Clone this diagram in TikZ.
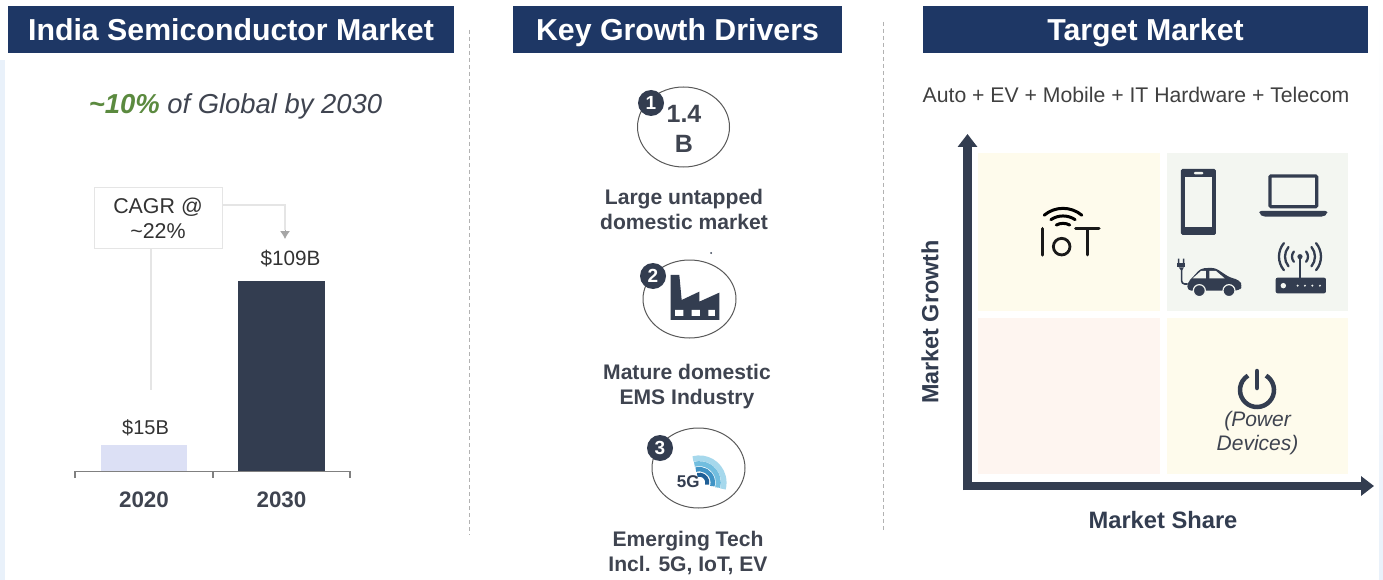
\documentclass[tikz,border=0pt]{standalone}
\usepackage{fontspec}
\setmainfont{Liberation Sans}
\usetikzlibrary{arrows.meta,calc}
\definecolor{hdr}{HTML}{1E3765}
\definecolor{ink}{HTML}{333D50}
\definecolor{txt}{HTML}{3F4450}
\definecolor{grn}{HTML}{5B8A3F}
\definecolor{qy}{HTML}{FEFBEC}
\definecolor{qg}{HTML}{F3F6F1}
\definecolor{qr}{HTML}{FEF5F0}
\definecolor{edge}{HTML}{E9F1FA}
\definecolor{bar1}{HTML}{DCE0F5}
\definecolor{gA}{HTML}{A6D8EC}
\definecolor{gB}{HTML}{72BEDF}
\definecolor{gC}{HTML}{3F93C5}
\definecolor{gD}{HTML}{1F5F96}
\newcommand{\tld}{\symbol{126}}
\tikzset{
  header/.style={fill=hdr,text=white,minimum height=47pt,inner sep=0pt,text height=21.5pt,text depth=0pt,font=\fontsize{30.3}{32}\selectfont\bfseries},
  divider/.style={draw=black!30,dashed,line width=0.7pt,dash pattern=on 4pt off 3pt},
  plain/.style={inner sep=0pt,text=txt,align=center},
  drv/.style={plain,font=\fontsize{21.1}{25}\selectfont\bfseries},
  badge/.style={circle,fill=ink,text=white,minimum size=26pt,inner sep=0pt,font=\fontsize{19}{20}\selectfont\bfseries},
  conn/.style={draw=black!10,line width=1.3pt},
}
\begin{document}
\begin{tikzpicture}[x=1pt,y=-1pt]
\useasboundingbox (0,0) rectangle (1383,580);
\fill[white] (0,0) rectangle (1383,580);
\fill[edge] (0,60) rectangle (5,580);
\shade[top color=white,bottom color=edge] (1379,0) rectangle (1383,580);
% headers
\node[header,minimum width=446pt] (h1) at (231,29.5) {India Semiconductor Market};
\node[header,minimum width=329pt] (h2) at (677.5,29.5) {Key Growth Drivers};
\node[header,minimum width=445pt] (h3) at (1145.5,29.5) {Target Market};
% dividers
\draw[divider] (469,30) -- (469,535);
\draw[divider] (883,22) -- (883,530);
% left panel
\node[plain,font=\fontsize{27.4}{30}\selectfont\itshape] (share) at (235.5,106) {\textcolor{grn}{\bfseries \tld 10\%} of Global by 2030};
\fill[bar1] (101,445) rectangle (187,471);
\fill[ink] (238,281) rectangle (325,471);
\draw[black!50,line width=1.2pt] (75,478) -- (75,471.5) -- (350,471.5) -- (350,478) (213,471.5) -- (213,478);
\node[draw=black!10,line width=1pt,minimum width=128pt,minimum height=60pt,inner sep=0pt,text=black!80,align=center,font=\fontsize{21.4}{25}\selectfont] (cagr) at (158,218) {CAGR @\\\tld 22\%};
\coordinate (arrowEnd) at (285,239);
\coordinate (lineEnd) at (151,390);
\draw[conn] ([yshift=13pt]cagr.east) -| (285,230);
\draw[draw=black!35,line width=1pt,-{Latex[length=8pt,width=10pt]}] (285,230) -- (arrowEnd);
\draw[conn] ([xshift=-7pt]cagr.south) -- (lineEnd);
\node[plain,text=black!80,font=\fontsize{20.7}{24}\selectfont] (v109) at (290.5,259) {\$109B};
\node[plain,text=black!80,font=\fontsize{20}{24}\selectfont] (v15) at (145.5,428) {\$15B};
\node[plain,font=\fontsize{22.4}{24}\selectfont\bfseries] (y20) at (144,500) {2020};
\node[plain,font=\fontsize{22.4}{24}\selectfont\bfseries] (y30) at (281.5,500) {2030};
% drivers
\draw[black!65,line width=1pt] (683.5,127) ellipse [x radius=46,y radius=40];
\draw[black!65,line width=1pt] (689.5,299) ellipse [x radius=46.5,y radius=39];
\draw[black!65,line width=1pt] (698.5,468) ellipse [x radius=46.5,y radius=40];
\node[plain,font=\fontsize{25}{30}\selectfont\bfseries] (n14) at (684,129) {1.4\\B};
\node[badge] (b1) at (651,103) {1};
\node[badge] (b2) at (653,276) {2};
\node[badge] (b3) at (660,448) {3};
\node[drv] (d1) at (684,209) {Large untapped\\domestic market};
\node[drv] (d2) at (687,387) {Mature domestic\\EMS Industry};
\node[drv] (d3) at (688,553) {Emerging Tech\\Incl. 5G, IoT, EV};
\fill[ink] (711,253) circle (1pt);
% factory
\begin{scope}[x=.3333pt,y=-.3333pt,shift={(580pt,-70pt)}]
\fill[ink] (272,750) -- (272,615) -- (298,615) -- (305,690) -- (358,665) -- (358,695) -- (418,668) -- (418,750) -- cycle;
\fill[white] (285,720) rectangle (310,738) (335,720) rectangle (360,738) (385,720) rectangle (405,738);
\end{scope}
% 5G
\begin{scope}[x=.3333pt,y=-.3333pt,shift={(580pt,-340pt)}]
\draw[gA,line width=5.5pt] (358,428) ++(105:24.5pt) arc[start angle=105,end angle=-15,radius=24.5pt];
\draw[gB,line width=5pt] (358,428) ++(105:19pt) arc[start angle=105,end angle=-15,radius=19pt];
\draw[gC,line width=4.5pt] (358,428) ++(105:13.5pt) arc[start angle=105,end angle=-15,radius=13.5pt];
\draw[gD,line width=4pt] (358,428) ++(105:8pt) arc[start angle=105,end angle=-15,radius=8pt];
\node[plain,text=ink,font=\fontsize{17}{20}\selectfont\bfseries] (fiveg) at (325,425) {5G};
\end{scope}
% target market
\node[plain,text=black!75,font=\fontsize{21.2}{24}\selectfont] (tm) at (1136,95) {Auto + EV + Mobile + IT Hardware + Telecom};
\fill[qy] (978,153) rectangle (1160,311);
\fill[qg] (1167,153) rectangle (1348,311);
\fill[qr] (978,318) rectangle (1160,474);
\fill[qy] (1167,318) rectangle (1348,474);
% axes
\coordinate (org) at (967.5,486);
\coordinate (ytop) at (967.5,134);
\coordinate (xend) at (1374,486);
\draw[ink,line width=8.5pt,-{Triangle[length=13pt,width=19pt]}] (org) ++(0,4.2) -- (ytop);
\draw[ink,line width=8.5pt,-{Triangle[length=13pt,width=19pt]}] (org) ++(-4.2,0) -- (xend);
\node[plain,text=ink,rotate=90,font=\fontsize{23.4}{26}\selectfont\bfseries] (my) at (930,322) {Market Growth};
\node[plain,text=ink,font=\fontsize{23.7}{26}\selectfont\bfseries] (mx) at (1163,520.5) {Market Share};
% icons
\begin{scope}[x=.3333pt,y=-.3333pt,shift={(1000pt,-140pt)}]
% IoT
\draw[black!90,line width=3.4pt,line cap=round] (127,266) -- (127,345);
\draw[black!90,line width=2.8pt] (185,320) circle (8.3pt);
\draw[black!90,line width=3pt,line cap=round] (227,267) -- (297,267) (262,267) -- (262,345);
\draw[black,line width=3pt,line cap=round] (189,293) ++(130:29.3pt) arc[start angle=130,end angle=50,radius=29.3pt];
\draw[black,line width=3pt,line cap=round] (189,293) ++(124:21.7pt) arc[start angle=124,end angle=56,radius=21.7pt];
\draw[black,line width=3pt,line cap=round] (189,293) ++(118:14.3pt) arc[start angle=118,end angle=62,radius=14.3pt];
% phone
\fill[ink,rounded corners=1.5pt] (543,87) rectangle (648,285);
\fill[qg] (555,112) rectangle (636,260);
\fill[qg,rounded corners=1pt] (582,96) rectangle (610,103);
% laptop
\draw[ink,line width=3.2pt,rounded corners=1pt] (810,108) rectangle (950,200);
\fill[ink,rounded corners=2pt] (778,213) -- (982,213) -- (982,222) -- (970,230) -- (790,230) -- (778,222) -- cycle;
% car
\fill[ink,rounded corners=4pt] (562,452) -- (562,428) -- (578,412) -- (602,385) -- (645,383) -- (688,412) -- (718,420) -- (728,438) -- (718,452) -- cycle;
\fill[qg] (578,415) -- (603,393) -- (618,393) -- (618,415) -- cycle;
\fill[qg] (628,393) -- (648,393) -- (674,415) -- (628,415) -- cycle;
\fill[ink,draw=qg,line width=1.2pt] (598,452) circle (6pt);
\fill[ink,draw=qg,line width=1.2pt] (687,452) circle (6pt);
\draw[ink,line width=1.6pt,rounded corners=3pt] (563,432) -- (545,432) -- (545,385);
\fill[ink] (531,370) rectangle (556,382);
\fill[ink] (545,393) -- (536,382) -- (552,382) -- cycle;
\fill[ink] (534,356) rectangle (538,370) (549,356) rectangle (553,370);
% router
\fill[ink,rounded corners=2pt] (827,413) rectangle (978,460);
\fill[qg] (850,437) circle (2.7pt);
\foreach \dx in {893,915,937,960}{\fill[qg] (\dx,437) circle (1.1pt);}
\draw[ink,line width=2pt] (900,415) -- (900,350);
\fill[ink] (900,350) circle (2.6pt);
\foreach \rr in {8,15,21}{
  \draw[ink,line width=2.3pt,line cap=round] (900,350) ++(140:\rr pt) arc[start angle=140,end angle=220,radius=\rr pt];
  \draw[ink,line width=2.3pt,line cap=round] (900,350) ++(40:\rr pt) arc[start angle=40,end angle=-40,radius=\rr pt];
}
\end{scope}
% power
\draw[ink,line width=4.5pt] (1257,390) ++(58:17pt) arc[start angle=58,end angle=-238,radius=17pt];
\draw[ink,line width=4.5pt,line cap=round] (1257,371) -- (1257,388);
\node[plain,font=\fontsize{21}{24.5}\selectfont\itshape] (pw) at (1257.5,433) {(Power\\Devices)};
\end{tikzpicture}
\end{document}
